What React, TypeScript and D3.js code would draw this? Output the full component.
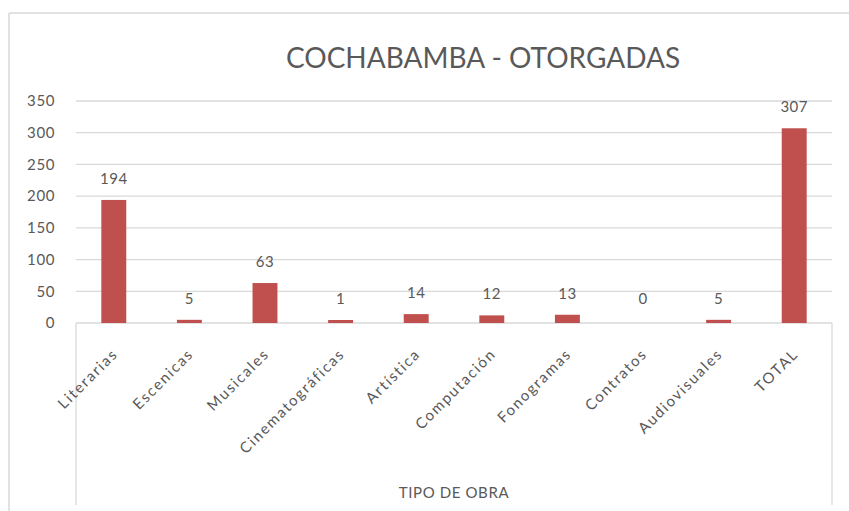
import React from "react";
import * as d3 from "d3";

const categories = ["Literarias", "Escenicas", "Musicales", "Cinematográficas", "Artística", "Computación", "Fonogramas", "Contratos", "Audiovisuales", "TOTAL"];
const values = [194, 5, 63, 1, 14, 12, 13, 0, 5, 307];
const yTicks = [0, 50, 100, 150, 200, 250, 300, 350];
const title = "COCHABAMBA - OTORGADAS";
const axisTitle = "TIPO DE OBRA";

const W = 849;
const H = 511;
const FONT = "Lato, 'Open Sans', sans-serif";
const GRID = "#d9d9d9";
const TEXT = "#595959";
const BAR = "#c0504d";

export default function App() {
  const left = 76;
  const right = 832;
  const top = 101;
  const bottom = 323;
  const x = d3.scaleBand<string>().domain(categories).range([left, right]).paddingInner(0.67).paddingOuter(0.335);
  const y = d3.scaleLinear().domain([0, 350]).range([bottom, top]);

  return (
    <svg width={W} height={H} style={{ position: "absolute", left: 0, top: 0, background: "#fff" }} fontFamily={FONT}>
      <rect x={0} y={0} width={W} height={H} fill="#fff" />
      {/* outer chart border */}
      <line x1={9} y1={13} x2={W} y2={13} stroke={GRID} strokeWidth={1.5} />
      <line x1={9} y1={13} x2={9} y2={H} stroke={GRID} strokeWidth={1.5} />
      <text x={483} y={68} textAnchor="middle" fontSize={28} fill={TEXT}>{title}</text>
      {yTicks.map((t) => (
        <g key={t}>
          {t > 0 && <line x1={left} x2={right} y1={y(t)} y2={y(t)} stroke={GRID} strokeWidth={1.3} />}
          <text x={55} y={y(t)} dy="0.35em" textAnchor="end" fontSize={15} letterSpacing={0.6} fill={TEXT}>{t}</text>
        </g>
      ))}
      {/* axis line and category box */}
      <line x1={left} x2={right} y1={bottom} y2={bottom} stroke={GRID} strokeWidth={1.3} />
      <line x1={left} x2={left} y1={bottom} y2={505} stroke={GRID} strokeWidth={1.3} />
      <line x1={right} x2={right} y1={bottom} y2={505} stroke={GRID} strokeWidth={1.3} />
      {categories.map((c, i) => {
        const v = values[i];
        const bx = x(c)!;
        const bw = x.bandwidth();
        const h = v > 0 ? Math.max(bottom - y(v), 3) : 0;
        const cx = bx + bw / 2;
        return (
          <g key={c}>
            {v > 0 && <rect x={bx} y={bottom - h} width={bw} height={h} fill={BAR} />}
            <text x={cx} y={Math.min(y(v), bottom - 3) - 16} textAnchor="middle" fontSize={15} letterSpacing={0.5} fill={TEXT}>{v}</text>
            <text transform={`translate(${cx + 5},${bottom + 32}) rotate(-45)`} textAnchor="end" fontSize={15} letterSpacing={1.7} fill={TEXT}>{c}</text>
          </g>
        );
      })}
      <text x={(left + right) / 2} y={493} dy="0.35em" textAnchor="middle" fontSize={15} letterSpacing={0.6} fill={TEXT}>{axisTitle}</text>
    </svg>
  );
}
